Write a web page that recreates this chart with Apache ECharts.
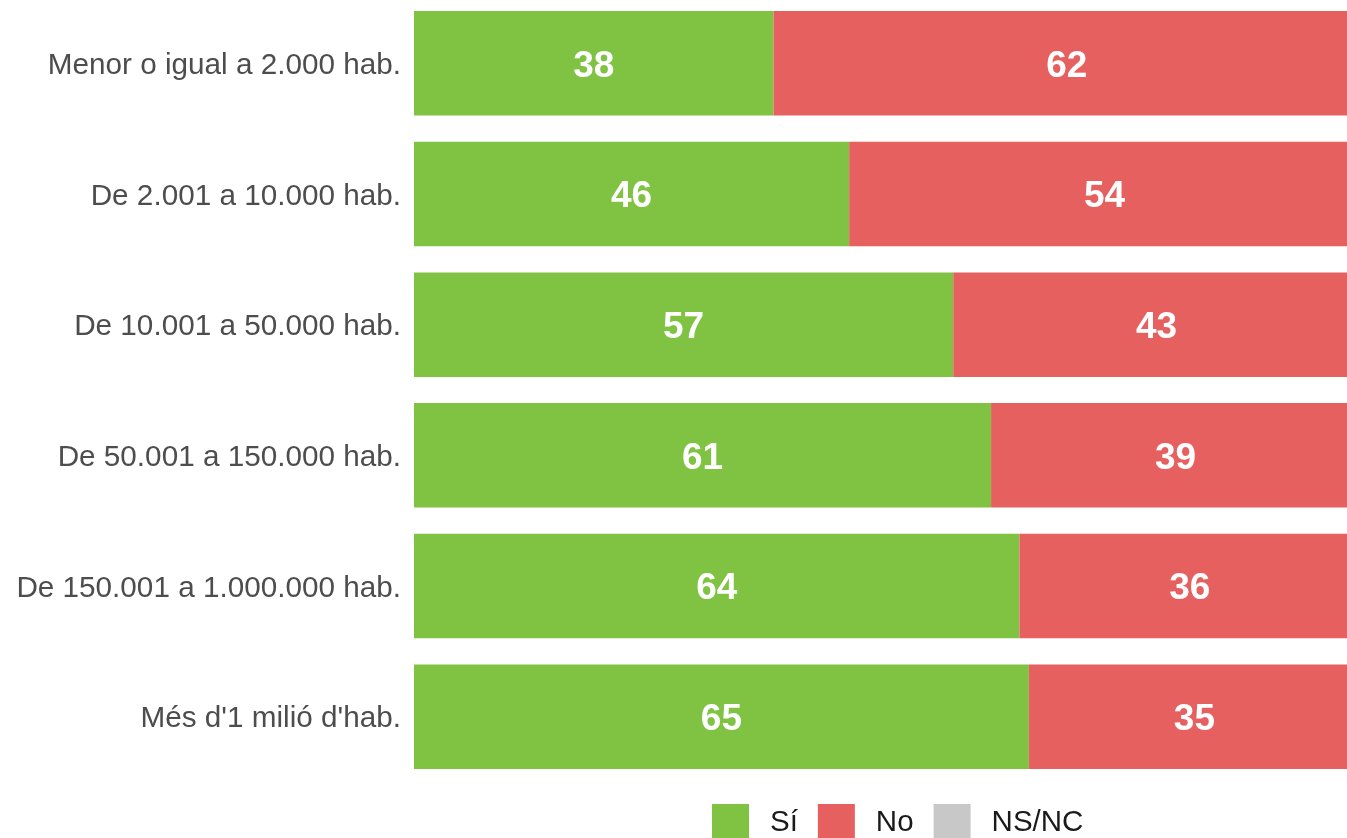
<!DOCTYPE html>
<html>
<head>
<meta charset="utf-8">
<script src="https://cdn.jsdelivr.net/npm/echarts@6/dist/echarts.min.js"></script>
<style>
html,body{margin:0;padding:0;background:#fff;overflow:hidden;}
/* the reference is cut off on the right and slightly at the top: the plot runs past the window */
#chart{width:1360px;height:840px;margin-top:-2px;}
</style>
</head>
<body>
<div id="chart"></div>
<script>
// categories (top to bottom)
var categories = ['Menor o igual a 2.000 hab.', 'De 2.001 a 10.000 hab.', 'De 10.001 a 50.000 hab.',
	'De 50.001 a 150.000 hab.', 'De 150.001 a 1.000.000 hab.', "Més d'1 milió d'hab."];
var si_values = [38, 46, 57, 61, 64, 65];
var no_values = [62, 54, 43, 39, 36, 35];
var nsnc_values = [0, 0, 0, 0, 0, 0];
var series_names = ['Sí', 'No', 'NS/NC'];

var colors = ['#80c241', '#e76060', '#c8c8c8'];
var font = 'Liberation Sans, Arial, sans-serif';

function make_series(name, data, color){
	return {
		name: name,
		type: 'bar',
		stack: 'total',
		barCategoryGap: '20%',
		itemStyle: { color: color },
		label: {
			show: true,
			position: 'inside',
			offset: [0, 3],
			color: '#fff',
			fontWeight: 'bold',
			fontSize: 37,
			fontFamily: font,
			formatter: function(p){ return p.value ? p.value : ''; }
		},
		emphasis: { disabled: true },
		data: data
	};
}

var myChart = echarts.init(document.getElementById('chart'));
myChart.setOption({
	animation: false,
	grid: { left: 414, right: 0, top: 0, bottom: 56 },
	legend: {
		left: 712,
		top: 806,
		padding: 0,
		itemWidth: 37,
		itemHeight: 37,
		itemGap: 20,
		icon: 'rect',
		data: series_names,
		textStyle: { fontSize: 29.5, color: '#1a1a1a', fontFamily: font, padding: [0, 0, 0, 16] }
	},
	xAxis: {
		type: 'value',
		min: 0,
		max: 100,
		show: false
	},
	yAxis: {
		type: 'category',
		inverse: true,
		data: categories,
		axisLine: { show: false },
		axisTick: { show: false },
		axisLabel: {
			margin: 13, color: '#4d4d4d',
			formatter: function(v){ return '{t|' + v + '}'; },
			rich: { t: { fontSize: 29.7, color: '#4d4d4d', fontFamily: font, padding: [5, 0, 0, 0] } }
		}
	},
	series: [
		make_series(series_names[0], si_values, colors[0]),
		make_series(series_names[1], no_values, colors[1]),
		make_series(series_names[2], nsnc_values, colors[2])
	]
});
</script>
</body>
</html>
